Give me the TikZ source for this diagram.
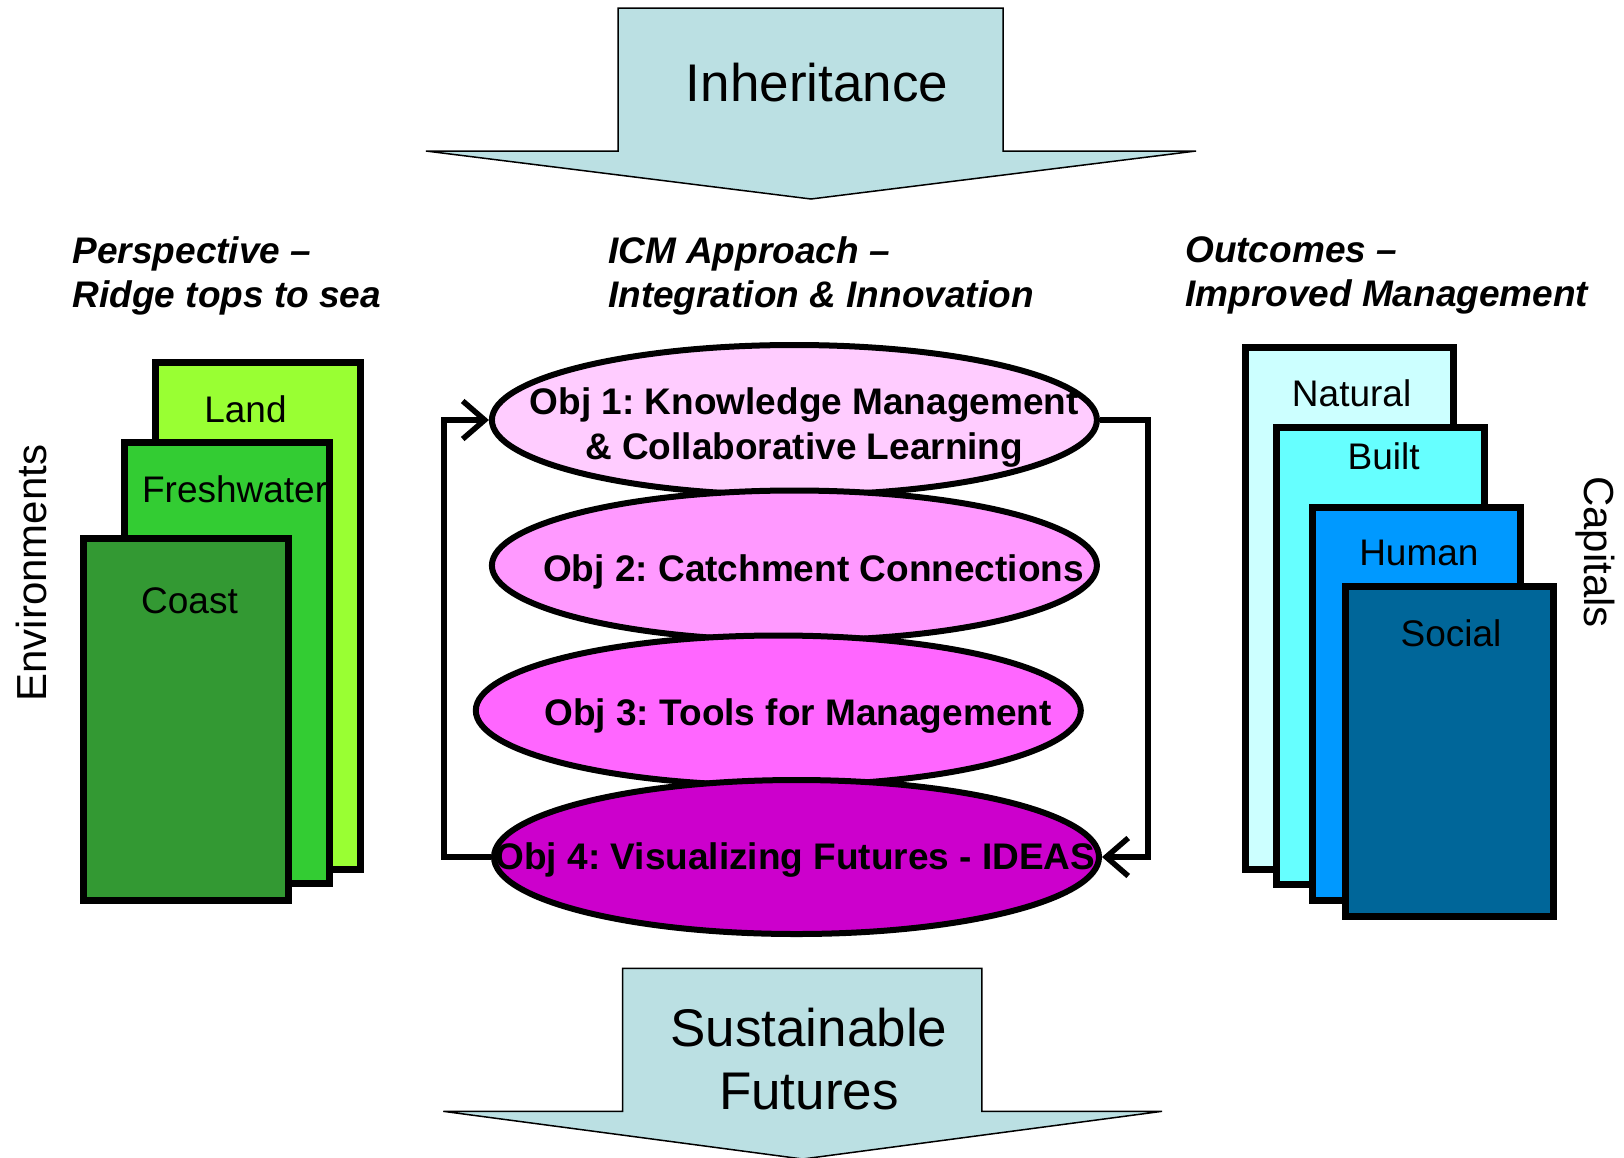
\documentclass[tikz,border=0pt]{standalone}
\usepackage{fontspec}
\setmainfont{Liberation Sans}
\usetikzlibrary{
  positioning,
  shapes.geometric,
  arrows.meta,
  }
\definecolor{arrowblue}{RGB}{187,224,227}
\definecolor{landgreen}{RGB}{153,255,51}
\definecolor{freshgreen}{RGB}{51,204,51}
\definecolor{coastgreen}{RGB}{51,153,51}
\definecolor{naturalblue}{RGB}{204,255,255}
\definecolor{builtblue}{RGB}{102,255,255}
\definecolor{humanblue}{RGB}{0,153,255}
\definecolor{socialblue}{RGB}{0,102,153}
\definecolor{objpinka}{RGB}{255,204,255}
\definecolor{objpinkb}{RGB}{255,153,255}
\definecolor{objpinkc}{RGB}{255,102,255}
\definecolor{objpinkd}{RGB}{204,0,204}
\frenchspacing

\begin{document}
\begin{tikzpicture}[x=1pt, y=-1pt,
    every node/.style={inner sep=0pt},
    bigarrow/.style={draw, line width=1.5pt, fill=arrowblue},
    bigtext/.style={font=\fontsize{53}{63}\selectfont, align=center},
    heading/.style={font=\fontsize{37}{44}\selectfont\bfseries\itshape, align=left, anchor=west},
    sheet/.style={draw, line width=7pt, minimum width=205pt},
    capsheet/.style={sheet, minimum width=208pt},
    sheettext/.style={font=\fontsize{37}{44}\selectfont},
    sidetext/.style={font=\fontsize{42}{50}\selectfont},
    objective/.style={ellipse, draw, line width=6pt, minimum width=605pt, minimum height=150pt},
    objtext/.style={font=\fontsize{37}{44.5}\selectfont\bfseries, align=center},
    feedback/.style={line width=5.5pt, -{Straight Barb[length=22pt, width=38pt]}},
  ]
\useasboundingbox (0,0) rectangle (1624,1157);

% top and bottom arrows
\draw[bigarrow] (618,8) -- (1003,8) -- (1003,151) -- (1196,151) -- (811,199)
    -- (426,151) -- (618,151) -- cycle;
\node[bigtext] (inherit) at (817,83) {Inheritance};
\draw[bigarrow] (622.5,968.4) -- (981.8,968.4) -- (981.8,1111.3) -- (1162,1111.3)
    -- (802.7,1159) -- (443.3,1111.3) -- (622.5,1111.3) -- cycle;
\node[bigtext] (futures) at (808.9,1059) {Sustainable\\Futures};

% headings
\node[heading] (perspective) at (72.5,275.5) {Perspective –\\Ridge tops to sea};
\node[heading] (approach) at (608,275.5) {ICM Approach –\\Integration \& Innovation};
\node[heading] (outcomes) at (1185,275.5) {Outcomes –\\Improved Management};

% environments
\node[sheet, fill=landgreen, minimum height=507pt] (land) at (258.4,616.3) {};
\node[sheettext] (landtext) at (245.5,409) {Land};
\node[sheet, fill=freshgreen, minimum height=441pt] (fresh) at (226.8,663.4) {};
\node[sheettext, anchor=west] (freshtext) at (141.9,489) {Freshwater};
\node[sheet, fill=coastgreen, minimum height=362pt] (coast) at (185.9,719.8) {};
\node[sheettext] (coasttext) at (189.5,600.7) {Coast};
\node[sidetext, rotate=90] (envs) at (31,573) {Environments};

% capitals
\node[capsheet, fill=naturalblue, minimum height=522pt] (natural) at (1349.5,608.5) {};
\node[sheettext] (naturaltext) at (1351.6,393.6) {Natural};
\node[capsheet, fill=builtblue, minimum height=457pt] (built) at (1380.6,655.6) {};
\node[sheettext] (builttext) at (1383.7,456.7) {Built};
\node[capsheet, fill=humanblue, minimum height=393pt] (human) at (1416.9,704.3) {};
\node[sheettext] (humantext) at (1418.9,553) {Human};
\node[capsheet, fill=socialblue, minimum height=330pt] (social) at (1449,751.4) {};
\node[sheettext] (socialtext) at (1451,632.8) {Social};
\node[sidetext, rotate=-90] (caps) at (1595,552) {Capitals};

% objectives
\node[objective, fill=objpinka] (obj1) at (794.4,420) {};
\node[objective, fill=objpinkb] (obj2) at (794.4,565.5) {};
\node[objective, fill=objpinkc] (obj3) at (778.3,710.5) {};
\node[objective, fill=objpinkd, minimum height=154pt] (obj4) at (796.5,857) {};
\node[objtext] (obj1text) at (804.2,427.5) {Obj 1: Knowledge Management\\\& Collaborative Learning};
\node[objtext] (obj2text) at (813.5,572) {Obj 2: Catchment Connections};
\node[objtext] (obj3text) at (798,716.5) {Obj 3: Tools for Management};
\node[objtext] (obj4text) at (795.4,860) {Obj 4: Visualizing Futures - IDEAS};

\draw[feedback] (obj4.west) -- ++(-47,0) |- (obj1.west);
\draw[feedback] (obj1.east) -- ++(48,0) |- (obj4.east);
\end{tikzpicture}
\end{document}
